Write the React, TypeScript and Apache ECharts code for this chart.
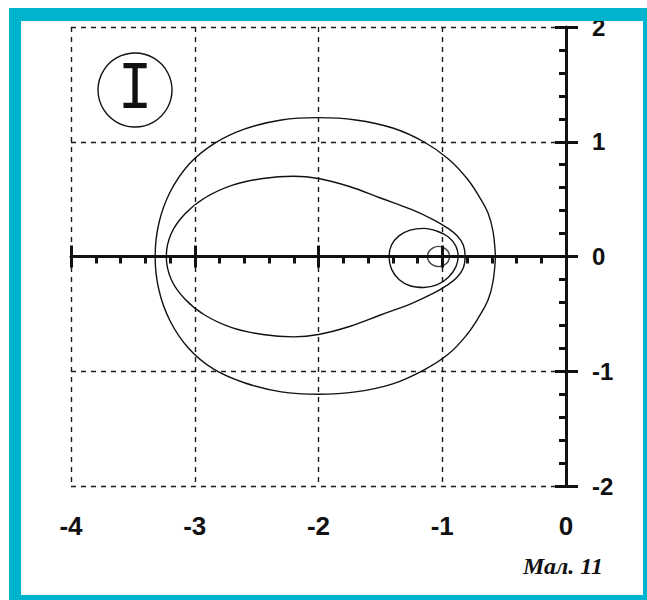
import { useEffect, useRef } from 'react';
import * as echarts from 'echarts';

// Tick labels
const xTickValues = [-4, -3, -2, -1, 0];
const xTickLabels = ['-4', '-3', '-2', '-1', '0'];
const yTickValues = [-2, -1, 0, 1, 2];
const yTickLabels = ['-2', '-1', '0', '1', '2'];

// Closed curves, traced point by point [x, y]
const outerOrbit: number[][] = [
  [-0.57, 0.0], [-0.59, 0.22], [-0.63, 0.38], [-0.7, 0.52], [-0.8, 0.68],
  [-0.95, 0.85], [-1.15, 1.0], [-1.4, 1.12], [-1.7, 1.19], [-2.0, 1.21],
  [-2.3, 1.19], [-2.6, 1.11], [-2.85, 0.98], [-3.05, 0.8], [-3.2, 0.56],
  [-3.29, 0.29], [-3.32, 0.0], [-3.29, -0.29], [-3.2, -0.56], [-3.05, -0.8],
  [-2.85, -0.98], [-2.6, -1.1], [-2.3, -1.18], [-2.0, -1.2], [-1.7, -1.18],
  [-1.4, -1.11], [-1.15, -0.99], [-0.95, -0.85], [-0.8, -0.68], [-0.7, -0.52],
  [-0.63, -0.38], [-0.59, -0.22], [-0.57, 0.0],
];

const teardropOrbit: number[][] = [
  [-0.815, 0.0], [-0.83, 0.1], [-0.88, 0.18], [-0.96, 0.25], [-1.07, 0.32],
  [-1.25, 0.41], [-1.5, 0.51], [-1.75, 0.61], [-2.0, 0.68], [-2.2, 0.7],
  [-2.45, 0.68], [-2.7, 0.62], [-2.92, 0.51], [-3.08, 0.37], [-3.19, 0.2],
  [-3.23, 0.0],
  [-3.19, -0.2], [-3.08, -0.37], [-2.92, -0.51], [-2.7, -0.62], [-2.45, -0.68],
  [-2.2, -0.7], [-2.0, -0.68], [-1.75, -0.61], [-1.5, -0.51], [-1.25, -0.41],
  [-1.07, -0.32], [-0.96, -0.25], [-0.88, -0.18], [-0.83, -0.1], [-0.815, 0.0],
];

const innerLoop: number[][] = [
  [-0.87, 0.0], [-0.89, 0.09], [-0.95, 0.17], [-1.04, 0.22], [-1.15, 0.245],
  [-1.26, 0.23], [-1.35, 0.18], [-1.41, 0.1], [-1.43, 0.0], [-1.41, -0.11],
  [-1.35, -0.2], [-1.26, -0.255], [-1.15, -0.27], [-1.04, -0.245], [-0.95, -0.18],
  [-0.89, -0.09], [-0.87, 0.0],
];

const centrePoint: number[][] = [[-1.03, 0]];

const badgeLabel = 'I';
const captionLabel = 'Мал. 11';

const INK = '#111111';
const FRAME = '#00B4CE';
const LABEL_FONT = "'Liberation Sans Narrow', 'Liberation Sans', Arial, sans-serif";

export default function App() {
  const ref = useRef<HTMLDivElement>(null);

  useEffect(() => {
    if (!ref.current) return;
    const chart = echarts.init(ref.current, null, { renderer: 'svg' });

    const heavy = { color: INK, width: 3 };
    const dashed = { color: '#1a1a1a', width: 1.4, type: [5, 5] as number[] };
    const curve = { color: INK, width: 1.4 };

    chart.setOption({
      animation: false,
      backgroundColor: '#ffffff',
      grid: {
        left: 71,
        right: 81,
        top: 27,
        bottom: 114,
        containLabel: false,
        outerBoundsMode: 'none',
      },
      xAxis: [
        {
          type: 'value', min: -4, max: 0, interval: 1, position: 'bottom',
          axisLine: { show: true, onZero: true, onZeroAxisIndex: 0, lineStyle: heavy },
          axisTick: { show: true, inside: false, length: 11, lineStyle: heavy },
          minorTick: { show: true, splitNumber: 5, length: 7, lineStyle: heavy },
          axisLabel: { show: false },
          splitLine: { show: true, lineStyle: dashed },
        },
        {
          type: 'value', min: -4, max: 0, interval: 1, position: 'bottom',
          axisLine: { show: false, onZero: true, onZeroAxisIndex: 1 },
          axisTick: { show: true, inside: true, length: 11, lineStyle: heavy },
          axisLabel: { show: false },
          splitLine: { show: false },
        },
        {
          type: 'value', min: -4, max: 0, interval: 1, position: 'bottom',
          axisLine: { show: false, onZero: false },
          axisTick: { show: false },
          axisLabel: {
            show: true, margin: 27, hideOverlap: false,
            color: INK, fontSize: 26, fontWeight: 'bold', fontFamily: LABEL_FONT,
            formatter: (v: number) => xTickLabels[xTickValues.indexOf(Math.round(v))] ?? '',
          },
          splitLine: { show: false },
        },
      ],
      yAxis: [
        {
          type: 'value', min: -2, max: 2, interval: 1, position: 'right',
          axisLine: { show: true, onZero: false, lineStyle: heavy },
          axisTick: { show: true, inside: true, length: 11, lineStyle: heavy },
          minorTick: { show: true, splitNumber: 5, length: 7, lineStyle: heavy },
          axisLabel: {
            show: true, margin: 26, hideOverlap: false,
            color: INK, fontSize: 24, fontWeight: 'bold', fontFamily: LABEL_FONT,
            formatter: (v: number) => yTickLabels[yTickValues.indexOf(Math.round(v))] ?? '',
          },
          splitLine: { show: true, lineStyle: dashed },
        },
        {
          type: 'value', min: -2, max: 2, interval: 1, position: 'right',
          axisLine: { show: false, onZero: false },
          axisTick: { show: true, inside: false, length: 12, lineStyle: heavy },
          axisLabel: { show: false },
          splitLine: { show: false },
        },
      ],
      series: [
        { type: 'line', data: outerOrbit, smooth: 0.4, symbol: 'none', lineStyle: curve, silent: true, z: 3 },
        { type: 'line', data: teardropOrbit, smooth: 0.4, symbol: 'none', lineStyle: curve, silent: true, z: 3 },
        { type: 'line', data: innerLoop, smooth: 0.4, symbol: 'none', lineStyle: curve, silent: true, z: 3 },
        {
          type: 'scatter', data: centrePoint, symbol: 'circle', symbolSize: [22, 20], silent: true, z: 3,
          itemStyle: { color: 'rgba(0,0,0,0)', borderColor: INK, borderWidth: 1.4 },
        },
      ],
      graphic: [
        // numbered badge
        {
          type: 'circle', z: 50, silent: true,
          shape: { cx: 135, cy: 90, r: 37 },
          style: { fill: 'rgba(0,0,0,0)', stroke: INK, lineWidth: 1.4 },
        },
        {
          type: 'text', z: 50, silent: true, x: 135, y: 90, scaleX: 0.85,
          style: {
            text: badgeLabel, fill: INK, fontSize: 68,
            fontFamily: "'Liberation Mono', 'DejaVu Sans Mono', monospace",
            align: 'center', verticalAlign: 'middle',
          },
        },
        // caption
        {
          type: 'text', z: 50, silent: true, x: 523, y: 566,
          style: {
            text: captionLabel, fill: INK, fontSize: 24, fontWeight: 'bold', fontStyle: 'italic',
            fontFamily: "'Liberation Serif', 'DejaVu Serif', serif",
            align: 'left', verticalAlign: 'middle',
          },
        },
        // cyan frame
        { type: 'rect', z: 100, silent: true, shape: { x: 9, y: 8, width: 640, height: 13 }, style: { fill: FRAME } },
        { type: 'rect', z: 100, silent: true, shape: { x: 9, y: 8, width: 12, height: 592 }, style: { fill: FRAME } },
        { type: 'rect', z: 100, silent: true, shape: { x: 643, y: 8, width: 6, height: 592 }, style: { fill: FRAME } },
        { type: 'rect', z: 100, silent: true, shape: { x: 9, y: 595, width: 640, height: 5 }, style: { fill: FRAME } },
      ],
    });

    return () => chart.dispose();
  }, []);

  return (
    <div
      ref={ref}
      style={{ position: 'fixed', left: 0, top: 0, width: 647, height: 600 }}
    />
  );
}
